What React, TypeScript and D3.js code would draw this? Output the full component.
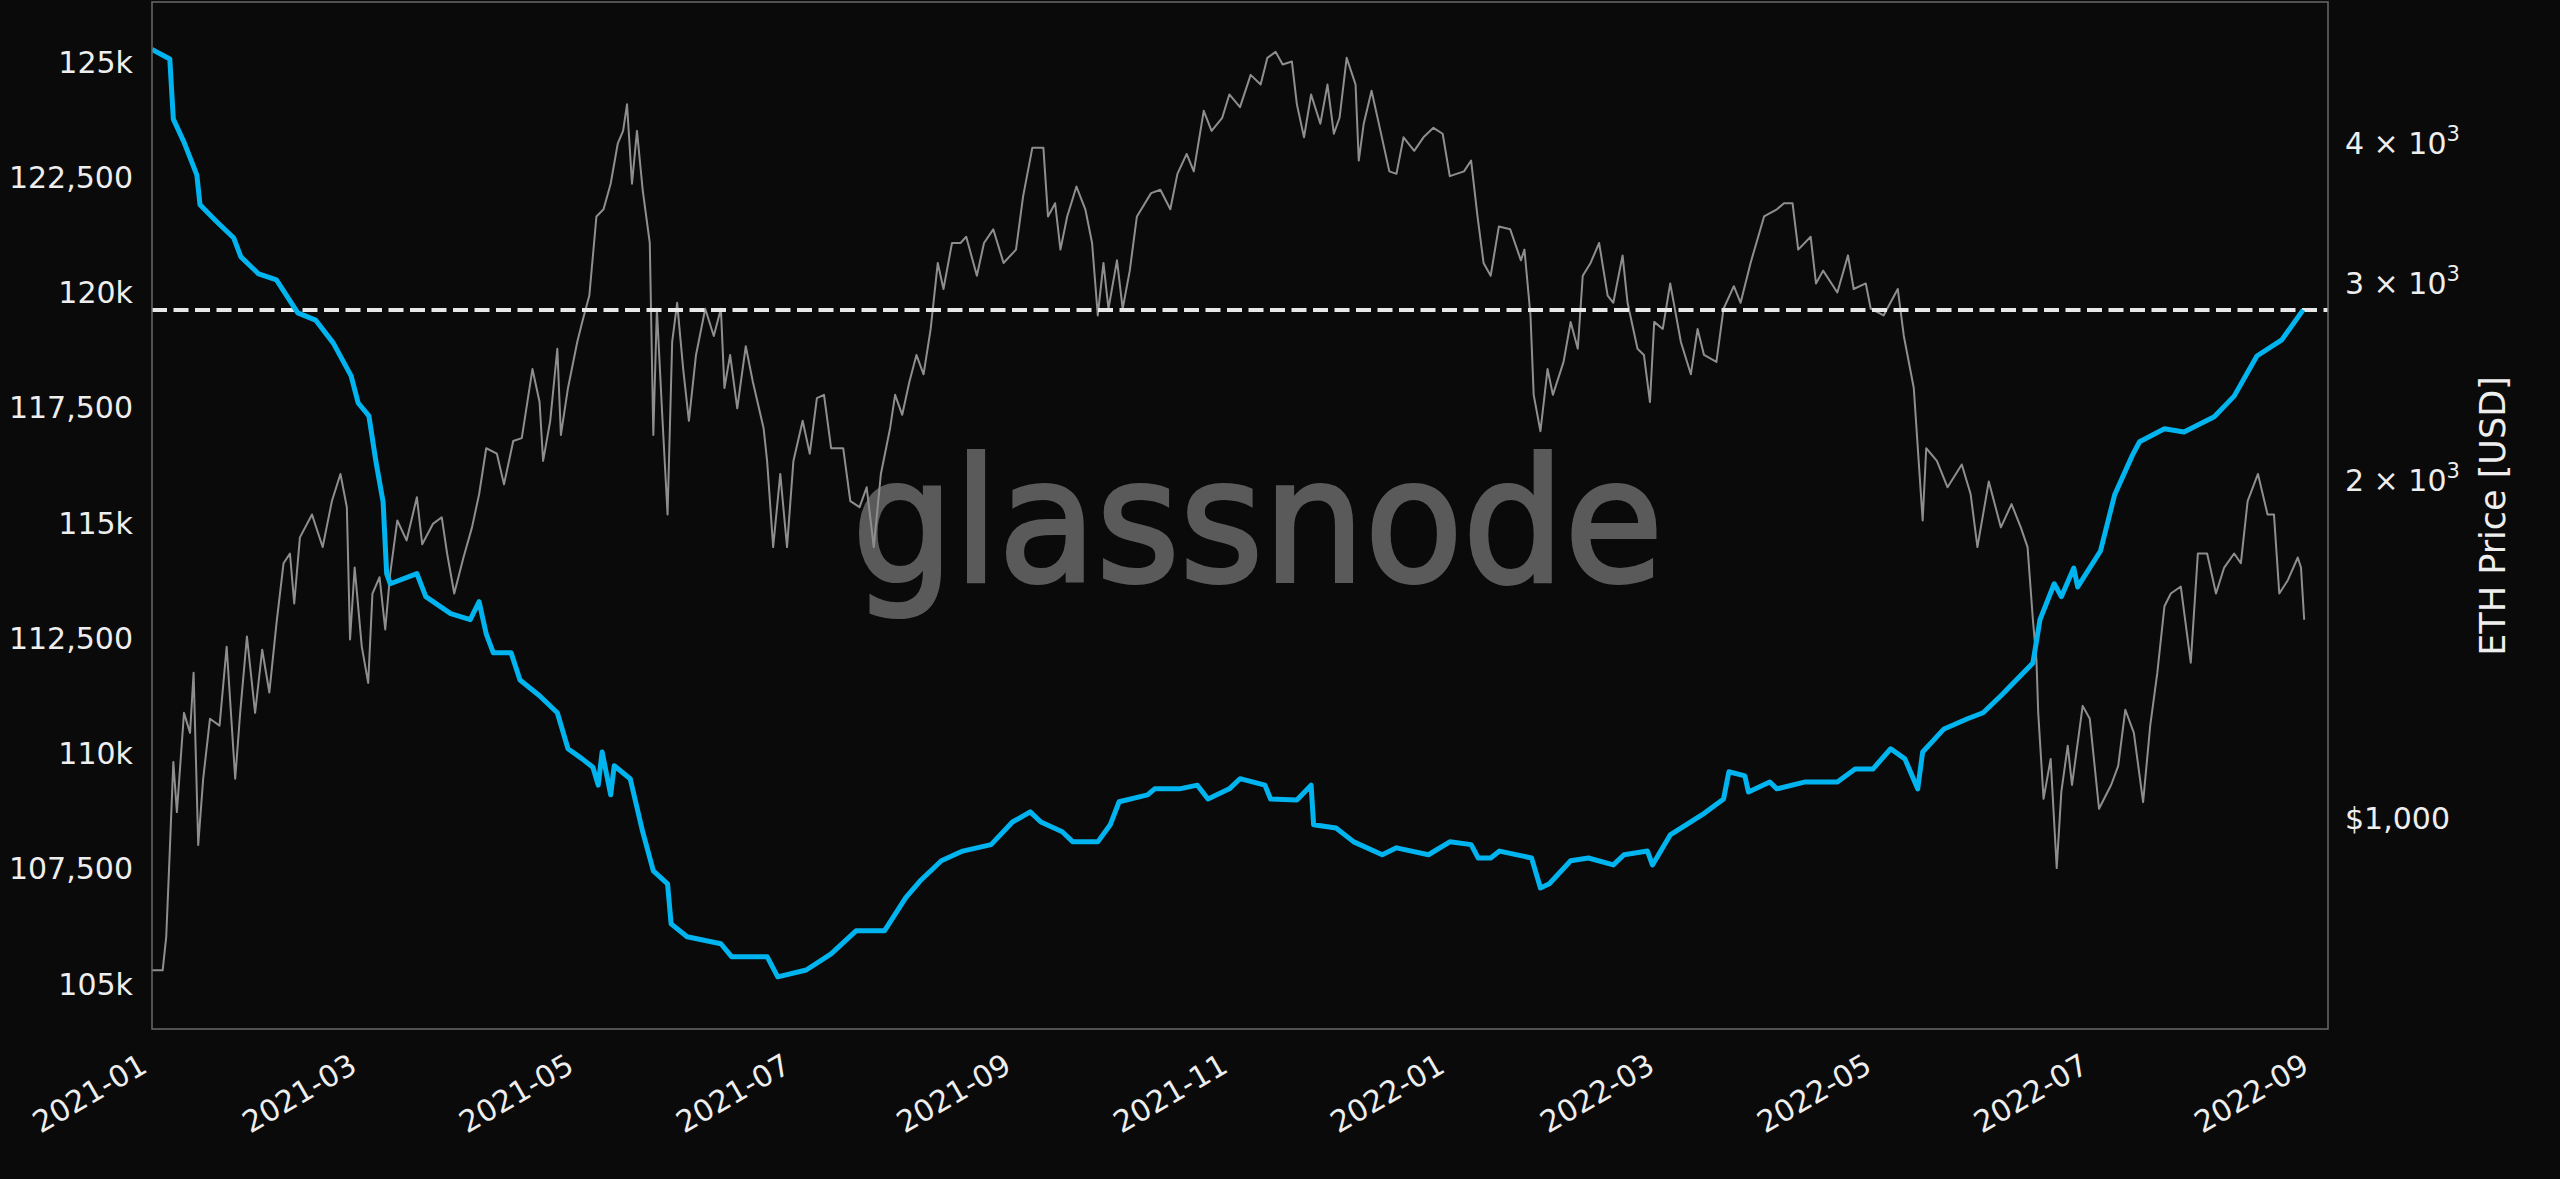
import * as d3 from "d3";

const W = 2560;
const H = 1179;
const margin = { top: 2, right: 232, bottom: 150, left: 152 };

// day offsets are counted from 2021-01-01
const startDate = "2021-01-01";
const axisEndDay = 612;

const supplyDays = [
  0, 5, 6, 9, 12.6, 13.5, 18, 23, 25, 30, 35, 41, 46, 51, 56, 58, 61, 63, 65, 66, 67, 74.5, 77, 84,
  89.5, 92, 94, 96, 101, 103.5, 109, 114, 117, 121, 124, 125.5, 126.6, 129, 130, 134.5, 138, 141,
  145, 146, 150.5, 160, 163, 173, 176, 184, 191, 198, 206, 212, 216, 222, 228, 236, 242, 247, 250,
  256, 259, 266, 269.5, 272, 280, 282, 289, 294, 297, 303, 306, 313, 314.6, 322, 326, 326.7, 333,
  338, 346, 350, 359, 365, 371, 373, 376.5, 379, 388, 390.5, 393, 399, 404, 411, 414, 420.6, 422,
  427, 436, 442, 443.5, 448, 449, 455, 457, 465, 474, 479, 484, 489, 493, 496.6, 498, 504, 510.6,
  515, 520, 529, 531, 535, 537, 540.5, 541.6, 548, 552, 557, 559, 566, 571.5, 580, 585.6, 592, 599,
  605,
];
const supplyValues = [
  125270, 125065, 123760, 123260, 122550, 121900, 121550, 121180, 120770, 120400, 120270, 119555,
  119400, 118900, 118190, 117600, 117320, 116320, 115450, 113900, 113680, 113900, 113400, 113030,
  112900, 113290, 112590, 112180, 112180, 111590, 111250, 110880, 110100, 109880, 109700, 109310,
  110030, 109100, 109730, 109450, 108300, 107450, 107170, 106300, 106020, 105870, 105590, 105590,
  105150, 105300, 105650, 106150, 106150, 106870, 107230, 107670, 107880, 108020, 108510, 108730,
  108510, 108300, 108080, 108080, 108450, 108950, 109100, 109230, 109230, 109310, 109010, 109230,
  109450, 109310, 109010, 108990, 109310, 108450, 108380, 108080, 107800, 107950, 107800, 108080,
  108020, 107730, 107730, 107880, 107730, 107080, 107170, 107670, 107730, 107580, 107800, 107880,
  107580, 108230, 108670, 109010, 109600, 109510, 109160, 109380, 109230, 109380, 109380, 109660,
  109660, 110100, 109880, 109230, 110030, 110530, 110750, 110880, 111250, 111960, 112900, 113680,
  113400, 114020, 113610, 114390, 115610, 116470, 116760, 117040, 116970, 117300, 117750, 118620,
  118970, 119620,
];
const referenceLevel = 119620;

const priceDays = [
  0, 3, 4, 5, 6, 7, 9, 10.7, 11.7, 13, 14.4, 16.3, 19, 21, 23.4, 24.8, 26.7, 29, 31, 33, 35, 37,
  38.8, 40, 41.6, 45, 48, 50.6, 53, 54.8, 55.7, 57, 59, 60.8, 62, 64, 65.6, 67, 69, 71.6, 74.5, 76,
  79, 81.5, 83, 85, 87.6, 90, 92, 94, 97, 99, 101.6, 104, 107, 109, 110, 112, 114, 115, 117, 119.6,
  121, 123, 125, 127, 129, 131, 132.5, 133.6, 135, 136.4, 138, 140, 141, 142, 143.5, 145, 146.3,
  147.7, 149.4, 151, 153, 155.6, 158, 160, 161, 162.6, 164.6, 167, 169, 172, 173, 174.7, 176.7,
  178.6, 180.4, 183, 185, 187, 189, 191, 194.4, 196.4, 199, 201, 203, 205, 207.6, 209, 211, 213,
  215, 217, 219, 221, 222.6, 225, 227.4, 229, 232, 234, 236.6, 239.5, 243, 245, 247.6, 250.7, 252,
  254, 255.5, 257.4, 260, 262.5, 264.4, 266, 267.6, 269, 271.4, 273, 275, 277, 281, 283.6, 286.4,
  288.4, 291, 293, 295.8, 298, 301, 303, 306, 309, 311.8, 313.7, 316, 318, 320.6, 322, 324, 326,
  328.6, 330.6, 332.4, 334, 336, 338.5, 339.4, 340.8, 343, 345.5, 348, 350, 352, 355, 357.6, 360.4,
  363, 365, 369, 371, 372.8, 374.5, 376.5, 378.8, 382, 385, 386, 387.7, 388.6, 390.5, 392.5, 394,
  397, 399, 401, 402.4, 404.6, 407, 409.4, 411, 413.6, 415, 417.8, 419.6, 421.3, 422.5, 424.9, 427,
  430, 432.8, 434.7, 436.5, 440, 442, 444.9, 446.8, 449.6, 453.4, 457, 459, 461.4, 463, 466.5, 468,
  470, 474, 477, 478.6, 482, 483.4, 487, 491, 492.7, 495.5, 498, 499, 502, 505, 509, 511.5, 513.4,
  516.6, 520, 523, 525.6, 527.5, 529, 530, 530.5, 532, 534, 535.7, 537, 538.8, 540, 543, 545, 547.6,
  551, 553, 555, 557.4, 560, 562, 564, 566, 567.8, 570.6, 573.4, 575.4, 578, 580.5, 582.8, 585.6,
  587.5, 589.4, 592.3, 595, 596.8, 598.3, 600.7, 603.5, 604.4, 605.3,
];
const priceValues = [
  731, 731, 783, 934, 1122, 1012, 1241, 1191, 1348, 946, 1084, 1226, 1209, 1422, 1084, 1241, 1452,
  1241, 1413, 1294, 1491, 1688, 1722, 1554, 1780, 1866, 1745, 1918, 2028, 1894, 1443, 1673, 1422,
  1320, 1586, 1640, 1473, 1653, 1843, 1769, 1933, 1755, 1830, 1855, 1722, 1586, 1708, 1817, 1945,
  2138, 2114, 1985, 2170, 2183, 2516, 2351, 2083, 2262, 2623, 2197, 2420, 2660, 2772, 2926, 3443,
  3494, 3682, 4000, 4105, 4335, 3682, 4105, 3637, 3260, 2197, 2848, 2290, 1866, 2660, 2883, 2516,
  2262, 2590, 2848, 2693, 2848, 2420, 2590, 2321, 2637, 2450, 2229, 2083, 1745, 2028, 1745, 2083,
  2262, 2114, 2370, 2386, 2138, 2138, 1918, 1894, 1973, 1745, 2028, 2229, 2386, 2290, 2450, 2590,
  2489, 2732, 3129, 2966, 3260, 3260, 3302, 3048, 3260, 3353, 3129, 3216, 3588, 3966, 3966, 3443,
  3538, 3216, 3443, 3661, 3494, 3260, 2809, 3129, 2848, 3146, 2848, 3080, 3443, 3612, 3637, 3494,
  3758, 3915, 3777, 4278, 4105, 4217, 4424, 4310, 4606, 4515, 4770, 4829, 4705, 4734, 4335, 4051,
  4424, 4166, 4515, 4081, 4217, 4770, 4515, 3862, 4166, 4458, 4105, 3777, 3758, 4051, 3940, 4051,
  4131, 4081, 3740, 3777, 3862, 3443, 3129, 3048, 3372, 3353, 3146, 3216, 2809, 2386, 2214, 2516,
  2386, 2553, 2772, 2623, 3048, 3129, 3260, 2926, 2883, 3178, 2883, 2623, 2590, 2351, 2772, 2732,
  3000, 2660, 2489, 2732, 2590, 2553, 2848, 2983, 2883, 3129, 3443, 3494, 3538, 3538, 3216, 3302,
  3000, 3080, 2945, 3178, 2966, 3000, 2848, 2809, 2966, 2693, 2420, 1843, 2138, 2083, 1973, 2068,
  1945, 1745, 1997, 1817, 1906, 1817, 1745, 1503, 1384, 1241, 1040, 1129, 902, 1055, 1160, 1070,
  1259, 1226, 1019, 1070, 1113, 1249, 1191, 1033, 1209, 1348, 1545, 1586, 1609, 1376, 1722, 1722,
  1586, 1673, 1722, 1688, 1918, 2028, 1866, 1866, 1586, 1630, 1708, 1673, 1503,
];

const xTickLabels = [
  "2021-01", "2021-03", "2021-05", "2021-07", "2021-09", "2021-11",
  "2022-01", "2022-03", "2022-05", "2022-07", "2022-09",
];
const leftTicks = [105000, 107500, 110000, 112500, 115000, 117500, 120000, 122500, 125000];
const leftTickLabels = ["105k", "107,500", "110k", "112,500", "115k", "117,500", "120k", "122,500", "125k"];
const rightTicks = [1000, 2000, 3000, 4000];
const rightTickLabels = ["$1,000", "2", "3", "4"];

const FONT = "DejaVu Sans, Verdana, sans-serif";
const TEXT = "#eeeeee";

export default function App() {
  const t0 = new Date(startDate + "T00:00:00");
  const dayToDate = (d: number) => new Date(t0.getTime() + d * 864e5);
  const parseMonth = d3.timeParse("%Y-%m");

  const x0 = margin.left;
  const x1 = W - margin.right;
  const y0 = margin.top;
  const y1 = H - margin.bottom;

  const x = d3.scaleTime().domain([t0, dayToDate(axisEndDay)]).range([x0, x1]);
  const yLeft = d3.scaleLinear().domain([104020, 126300]).range([y1, y0]);
  const yRight = d3.scaleLog().domain([648, 5350]).range([y1, y0]);

  const supplyLine = d3
    .line<number>()
    .x((d) => x(dayToDate(d)))
    .y((_, i) => yLeft(supplyValues[i]))(supplyDays);

  const priceLine = d3
    .line<number>()
    .x((d) => x(dayToDate(d)))
    .y((_, i) => yRight(priceValues[i]))(priceDays);

  return (
    <svg
      width={W}
      height={H}
      style={{ position: "absolute", left: 0, top: 0, background: "#0a0a0a" }}
      fontFamily={FONT}
    >
      <rect x={0} y={0} width={W} height={H} fill="#0a0a0a" />
      <defs>
        <clipPath id="plot">
          <rect x={x0} y={y0} width={x1 - x0} height={y1 - y0} />
        </clipPath>
      </defs>

      {/* watermark */}
      <text
        x={852}
        y={581}
        fontSize={172}
        fill="#5a5a5a"
        stroke="#5a5a5a"
        strokeWidth={4}
        textLength={811}
        lengthAdjust="spacingAndGlyphs"
      >
        glassnode
      </text>

      <g clipPath="url(#plot)">
        <path d={priceLine ?? ""} fill="none" stroke="#8e8e8e" strokeWidth={2} strokeLinejoin="round" />
        <line
          x1={x0}
          x2={x1}
          y1={yLeft(referenceLevel)}
          y2={yLeft(referenceLevel)}
          stroke="#e8e8e8"
          strokeWidth={4}
          strokeDasharray="15 6.5"
        />
        <path d={supplyLine ?? ""} fill="none" stroke="#00b4ef" strokeWidth={5} strokeLinejoin="round" />
      </g>

      <rect x={x0} y={y0} width={x1 - x0} height={y1 - y0} fill="none" stroke="#6a6a6a" strokeWidth={1.5} />

      {/* left axis */}
      {leftTicks.map((v, i) => (
        <text key={v} x={133} y={yLeft(v)} dy="0.36em" textAnchor="end" fontSize={30} fill={TEXT}>
          {leftTickLabels[i]}
        </text>
      ))}

      {/* right axis */}
      {rightTicks.map((v, i) =>
        v === 1000 ? (
          <text key={v} x={2345} y={yRight(v)} dy="0.36em" fontSize={30} fill={TEXT}>
            {rightTickLabels[i]}
          </text>
        ) : (
          <text key={v} x={2345} y={yRight(v)} dy="0.36em" fontSize={30} fill={TEXT}>
            {rightTickLabels[i] + " × 10"}
            <tspan fontSize={21} dy="-13">3</tspan>
          </text>
        )
      )}
      <text
        transform={`translate(2492,516) rotate(-90)`}
        textAnchor="middle"
        dy="0.36em"
        fontSize={35}
        fill={TEXT}
      >
        ETH Price [USD]
      </text>

      {/* bottom axis */}
      {xTickLabels.map((s) => {
        const tx = x(parseMonth(s) as Date);
        return (
          <text
            key={s}
            transform={`translate(${tx - 3},${y1 + 42}) rotate(-30)`}
            textAnchor="end"
            fontSize={30}
            fill={TEXT}
          >
            {s}
          </text>
        );
      })}
    </svg>
  );
}
